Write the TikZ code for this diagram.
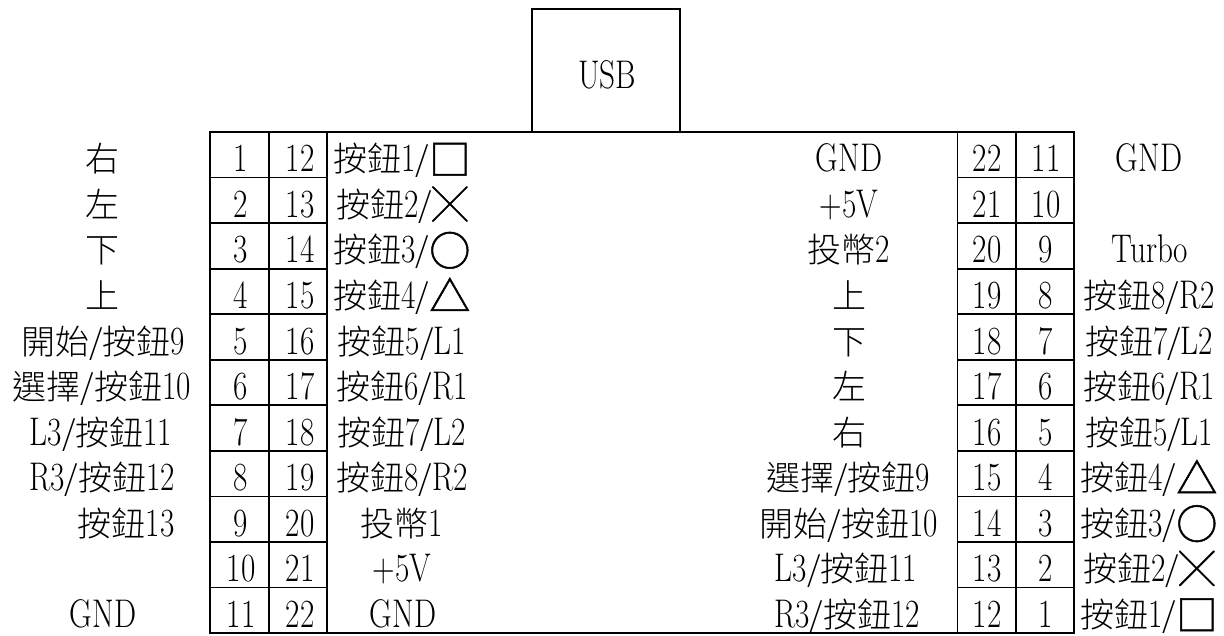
\documentclass[tikz,border=0pt]{standalone}
\usepackage{fontspec}
\setmainfont{Latin Modern Roman}[FakeStretch=0.78]
\newfontfamily\cjk{Noto Sans CJK TC Light}
\newfontfamily\cjkb{Noto Sans CJK TC}[FakeBold=1.2]
\newcommand{\zh}[1]{{\fontsize{34}{34}\selectfont\cjk #1}}
\newcommand{\btn}[1]{\raisebox{-3pt}{\fontsize{41}{41}\selectfont\cjkb #1}}
\newcommand{\btnx}{{\fontsize{35}{35}\selectfont\cjkb ╳}}
\tikzset{
  wire/.style={draw=black,line width=1.8pt},
  pinnum/.style={anchor=base,inner sep=0pt,font=\fontsize{40}{40}\selectfont},
  tag/.style={anchor=base,inner sep=0pt,font=\fontsize{40}{40}\selectfont}
}
\begin{document}
\begin{tikzpicture}[x=1pt,y=-1pt]
      \useasboundingbox (0,0) rectangle (1224,635);
      % usb plug and outer box
      \node[wire,minimum width=148pt,minimum height=123pt,inner sep=0pt] (usb) at (606,70.5) {};
      \node[tag] (usblabel) at (607,88) {USB};
      \draw[wire] (210,132) rectangle (1074,633);
      % left connector grid
      \draw[wire] (269,132) -- (269,633);
      \draw[wire] (327,132) -- (327,633);
      \draw[wire] (210,177.5) -- (327,177.5);
      \draw[wire] (210,223) -- (327,223);
      \draw[wire] (210,268.7) -- (327,268.7);
      \draw[wire] (210,314.2) -- (327,314.2);
      \draw[wire] (210,359.8) -- (327,359.8);
      \draw[wire] (210,405.3) -- (327,405.3);
      \draw[wire] (210,450.9) -- (327,450.9);
      \draw[wire] (210,496.4) -- (327,496.4);
      \draw[wire] (210,542) -- (327,542);
      \draw[wire] (210,587.5) -- (327,587.5);
      % right connector grid
      \draw[wire] (957.5,132) -- (957.5,633);
      \draw[wire] (1015.7,132) -- (1015.7,633);
      \draw[wire] (957.5,177.5) -- (1074,177.5);
      \draw[wire] (957.5,223) -- (1074,223);
      \draw[wire] (957.5,268.7) -- (1074,268.7);
      \draw[wire] (957.5,314.2) -- (1074,314.2);
      \draw[wire] (957.5,359.8) -- (1074,359.8);
      \draw[wire] (957.5,405.3) -- (1074,405.3);
      \draw[wire] (957.5,450.9) -- (1074,450.9);
      \draw[wire] (957.5,496.4) -- (1074,496.4);
      \draw[wire] (957.5,542) -- (1074,542);
      \draw[wire] (957.5,587.5) -- (1074,587.5);
      % left pins
      \node[pinnum] (la1) at (241,171.8) {1};
      \node[pinnum] (la2) at (241,217.3) {2};
      \node[pinnum] (la3) at (241,262.9) {3};
      \node[pinnum] (la4) at (241,308.4) {4};
      \node[pinnum] (la5) at (241,354) {5};
      \node[pinnum] (la6) at (241,399.5) {6};
      \node[pinnum] (la7) at (241,445.1) {7};
      \node[pinnum] (la8) at (241,490.6) {8};
      \node[pinnum] (la9) at (241,536.2) {9};
      \node[pinnum] (la10) at (241,581.7) {10};
      \node[pinnum] (la11) at (241,627.3) {11};
      \node[pinnum] (lb12) at (300,171.8) {12};
      \node[pinnum] (lb13) at (300,217.3) {13};
      \node[pinnum] (lb14) at (300,262.9) {14};
      \node[pinnum] (lb15) at (300,308.4) {15};
      \node[pinnum] (lb16) at (300,354) {16};
      \node[pinnum] (lb17) at (300,399.5) {17};
      \node[pinnum] (lb18) at (300,445.1) {18};
      \node[pinnum] (lb19) at (300,490.6) {19};
      \node[pinnum] (lb20) at (300,536.2) {20};
      \node[pinnum] (lb21) at (300,581.7) {21};
      \node[pinnum] (lb22) at (300,627.3) {22};
      % right pins
      \node[pinnum] (ra22) at (987,171.8) {22};
      \node[pinnum] (ra21) at (987,217.3) {21};
      \node[pinnum] (ra20) at (987,262.9) {20};
      \node[pinnum] (ra19) at (987,308.4) {19};
      \node[pinnum] (ra18) at (987,354) {18};
      \node[pinnum] (ra17) at (987,399.5) {17};
      \node[pinnum] (ra16) at (987,445.1) {16};
      \node[pinnum] (ra15) at (987,490.6) {15};
      \node[pinnum] (ra14) at (987,536.2) {14};
      \node[pinnum] (ra13) at (987,581.7) {13};
      \node[pinnum] (ra12) at (987,627.3) {12};
      \node[pinnum] (rb11) at (1046,171.8) {11};
      \node[pinnum] (rb10) at (1046,217.3) {10};
      \node[pinnum] (rb9) at (1046,262.9) {9};
      \node[pinnum] (rb8) at (1046,308.4) {8};
      \node[pinnum] (rb7) at (1046,354) {7};
      \node[pinnum] (rb6) at (1046,399.5) {6};
      \node[pinnum] (rb5) at (1046,445.1) {5};
      \node[pinnum] (rb4) at (1046,490.6) {4};
      \node[pinnum] (rb3) at (1046,536.2) {3};
      \node[pinnum] (rb2) at (1046,581.7) {2};
      \node[pinnum] (rb1) at (1046,627.3) {1};
      % labels outside left
      \node[tag] (tla1) at (102,171.8) {\zh{右}};
      \node[tag] (tla2) at (102,217.3) {\zh{左}};
      \node[tag] (tla3) at (102,262.9) {\zh{下}};
      \node[tag] (tla4) at (102,308.4) {\zh{上}};
      \node[tag] (tla5) at (103,354) {\zh{開始/按鈕}9};
      \node[tag] (tla6) at (102,399.5) {\zh{選擇/按鈕}10};
      \node[tag] (tla7) at (101,445.1) {L3\zh{/按鈕}11};
      \node[tag] (tla8) at (102,490.6) {R3\zh{/按鈕}12};
      \node[tag] (tla9) at (126,536.2) {\zh{按鈕}13};
      \node[tag] (tla11) at (103,627.3) {GND};
      % labels inside left
      \node[tag] (tlb12) at (402,171.8) {\zh{按鈕}1\zh{/}\btn{□}};
      \node[tag] (tlb13) at (402,217.3) {\zh{按鈕}2\zh{/}\btnx};
      \node[tag] (tlb14) at (402,262.9) {\zh{按鈕}3\zh{/}\btn{○}};
      \node[tag] (tlb15) at (402,308.4) {\zh{按鈕}4\zh{/}\btn{△}};
      \node[tag] (tlb16) at (402,354) {\zh{按鈕}5\zh{/}L1};
      \node[tag] (tlb17) at (402,399.5) {\zh{按鈕}6\zh{/}R1};
      \node[tag] (tlb18) at (402,445.1) {\zh{按鈕}7\zh{/}L2};
      \node[tag] (tlb19) at (402,490.6) {\zh{按鈕}8\zh{/}R2};
      \node[tag] (tlb20) at (402,536.2) {\zh{投幣}1};
      \node[tag] (tlb21) at (402,581.7) {+5V};
      \node[tag] (tlb22) at (403,627.3) {GND};
      % labels inside right
      \node[tag] (tra22) at (849,171.8) {GND};
      \node[tag] (tra21) at (849,217.3) {+5V};
      \node[tag] (tra20) at (849,262.9) {\zh{投幣}2};
      \node[tag] (tra19) at (849,308.4) {\zh{上}};
      \node[tag] (tra18) at (849,354) {\zh{下}};
      \node[tag] (tra17) at (849,399.5) {\zh{左}};
      \node[tag] (tra16) at (849,445.1) {\zh{右}};
      \node[tag] (tra15) at (848,490.6) {\zh{選擇/按鈕}9};
      \node[tag] (tra14) at (849,536.2) {\zh{開始/按鈕}10};
      \node[tag] (tra13) at (846,581.7) {L3\zh{/按鈕}11};
      \node[tag] (tra12) at (847,627.3) {R3\zh{/按鈕}12};
      % labels outside right
      \node[tag] (trb11) at (1149,171.8) {GND};
      \node[tag] (trb9) at (1150,262.9) {Turbo};
      \node[tag] (trb8) at (1149,308.4) {\zh{按鈕}8\zh{/}R2};
      \node[tag] (trb7) at (1149,354) {\zh{按鈕}7\zh{/}L2};
      \node[tag] (trb6) at (1149,399.5) {\zh{按鈕}6\zh{/}R1};
      \node[tag] (trb5) at (1149,445.1) {\zh{按鈕}5\zh{/}L1};
      \node[tag] (trb4) at (1149,490.6) {\zh{按鈕}4\zh{/}\btn{△}};
      \node[tag] (trb3) at (1149,536.2) {\zh{按鈕}3\zh{/}\btn{○}};
      \node[tag] (trb2) at (1149,581.7) {\zh{按鈕}2\zh{/}\btnx};
      \node[tag] (trb1) at (1149,627.3) {\zh{按鈕}1\zh{/}\btn{□}};
    \end{tikzpicture}
\end{document}
